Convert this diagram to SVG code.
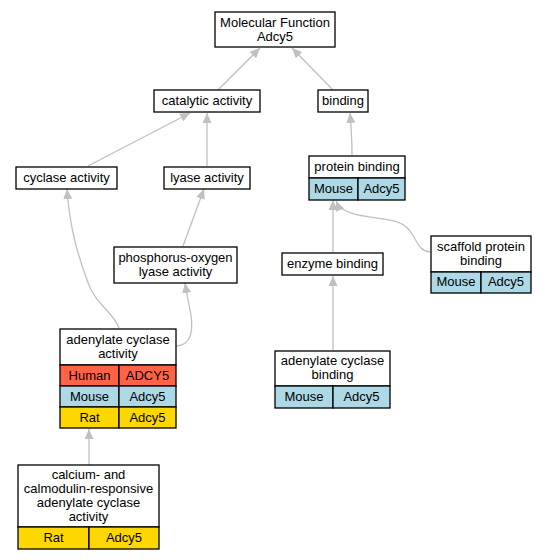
<svg xmlns="http://www.w3.org/2000/svg" width="545" height="560" viewBox="0 0 545 560">
<style>
text{font-family:"Liberation Sans",Arial,sans-serif;font-size:13px;fill:#000;text-anchor:middle}
.b{fill:#fff;stroke:#000;stroke-width:1.3}
.h{fill:#ff6347;stroke:#000;stroke-width:1.3}
.m{fill:#add8e6;stroke:#000;stroke-width:1.3}
.r{fill:#ffd700;stroke:#000;stroke-width:1.3}
.e{fill:none;stroke:#c0c0c0;stroke-width:1.3}
</style>
<defs>
<marker id="a" viewBox="0 0 10 9" refX="10" refY="4.5" markerWidth="10" markerHeight="9" markerUnits="userSpaceOnUse" orient="auto">
<path d="M0,0L10,4.5L0,9z" fill="#c0c0c0"/>
</marker>
</defs>
<rect width="545" height="560" fill="#fff"/>
<g id="edges">
<path class="e" marker-end="url(#a)" d="M218,90L260,48"/>
<path class="e" marker-end="url(#a)" d="M333,90L292,48"/>
<path class="e" marker-end="url(#a)" d="M88,166L190,113"/>
<path class="e" marker-end="url(#a)" d="M207,166L207,113"/>
<path class="e" marker-end="url(#a)" d="M352,155C352,140 351,125 350,113"/>
<path class="e" marker-end="url(#a)" d="M183,246L204,189"/>
<path class="e" marker-end="url(#a)" d="M119,328C112,310 95,305 87,280C78,255 70,230 67,189"/>
<path class="e" marker-end="url(#a)" d="M176,346C192,345 193,330 191,315C189,305 187,295 185,283"/>
<path class="e" marker-end="url(#a)" d="M333,253L333,200"/>
<path class="e" marker-end="url(#a)" d="M430,252C415,250 418,236 405,226C390,214 345,222 336,201"/>
<path class="e" marker-end="url(#a)" d="M333,350L333,276"/>
<path class="e" marker-end="url(#a)" d="M89,465L89,429"/>
</g>
<g id="mf">
<rect class="b" x="215" y="12" width="120" height="35"/>
<text x="275" y="27">Molecular Function</text>
<text x="275" y="41">Adcy5</text>
</g>
<g id="catalytic">
<rect class="b" x="154" y="90" width="106" height="22"/>
<text x="207" y="105">catalytic activity</text>
</g>
<g id="binding">
<rect class="b" x="318" y="90" width="50" height="22"/>
<text x="343" y="105">binding</text>
</g>
<g id="cyclase">
<rect class="b" x="16" y="167" width="101" height="22"/>
<text x="66.5" y="182">cyclase activity</text>
</g>
<g id="lyase">
<rect class="b" x="164" y="167" width="86" height="22"/>
<text x="207" y="182">lyase activity</text>
</g>
<g id="protein">
<rect class="b" x="309" y="156" width="96" height="22"/>
<text x="357" y="171">protein binding</text>
<rect class="m" x="309" y="178" width="49" height="22"/>
<rect class="m" x="358" y="178" width="47" height="22"/>
<text x="333.5" y="193">Mouse</text>
<text x="381.5" y="193">Adcy5</text>
</g>
<g id="phospho">
<rect class="b" x="114" y="247" width="123" height="36"/>
<text x="175.5" y="262">phosphorus-oxygen</text>
<text x="175.5" y="276">lyase activity</text>
</g>
<g id="enzyme">
<rect class="b" x="282" y="253" width="101" height="22"/>
<text x="332.5" y="268">enzyme binding</text>
</g>
<g id="scaffold">
<rect class="b" x="431" y="236" width="100" height="36"/>
<text x="481" y="251">scaffold protein</text>
<text x="481" y="265">binding</text>
<rect class="m" x="431" y="272" width="50" height="21"/>
<rect class="m" x="481" y="272" width="50" height="21"/>
<text x="456" y="286">Mouse</text>
<text x="506" y="286">Adcy5</text>
</g>
<g id="aca">
<rect class="b" x="60" y="329" width="116" height="36"/>
<text x="118" y="344">adenylate cyclase</text>
<text x="118" y="358">activity</text>
<rect class="h" x="60" y="365" width="59" height="21"/>
<rect class="h" x="119" y="365" width="57" height="21"/>
<text x="89.5" y="380">Human</text>
<text x="147.5" y="380">ADCY5</text>
<rect class="m" x="60" y="386" width="59" height="21"/>
<rect class="m" x="119" y="386" width="57" height="21"/>
<text x="89.5" y="401">Mouse</text>
<text x="147.5" y="401">Adcy5</text>
<rect class="r" x="60" y="407" width="59" height="21"/>
<rect class="r" x="119" y="407" width="57" height="21"/>
<text x="89.5" y="422">Rat</text>
<text x="147.5" y="422">Adcy5</text>
</g>
<g id="acb">
<rect class="b" x="275" y="351" width="115" height="35"/>
<text x="332.5" y="365">adenylate cyclase</text>
<text x="332.5" y="379">binding</text>
<rect class="m" x="275" y="386" width="58" height="22"/>
<rect class="m" x="333" y="386" width="57" height="22"/>
<text x="304" y="401">Mouse</text>
<text x="361.5" y="401">Adcy5</text>
</g>
<g id="calcium">
<rect class="b" x="18" y="465" width="141" height="62"/>
<text x="88.5" y="479">calcium- and</text>
<text x="88.5" y="493">calmodulin-responsive</text>
<text x="88.5" y="507">adenylate cyclase</text>
<text x="88.5" y="521">activity</text>
<rect class="r" x="18" y="527" width="71" height="22"/>
<rect class="r" x="89" y="527" width="70" height="22"/>
<text x="53.5" y="542">Rat</text>
<text x="124" y="542">Adcy5</text>
</g>
</svg>
